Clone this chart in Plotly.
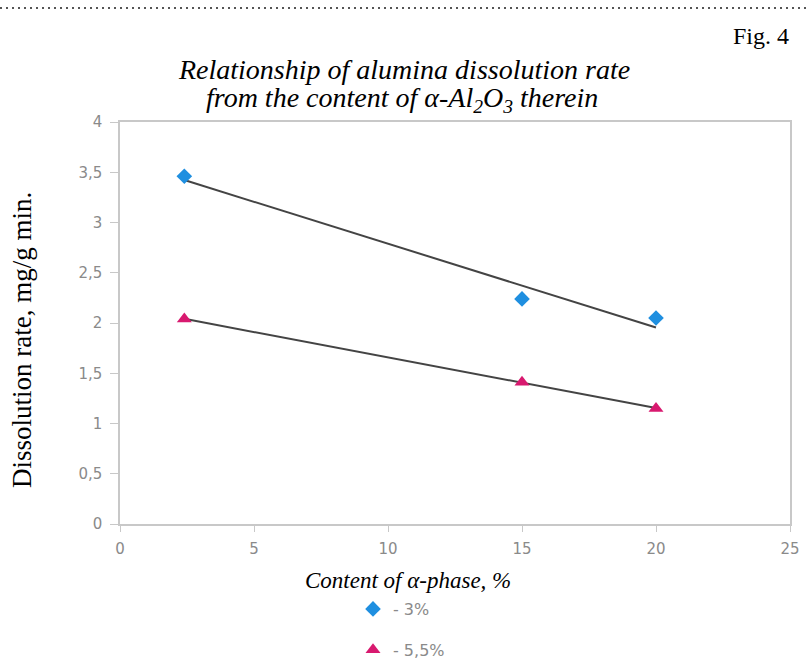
import numpy as np
import plotly.graph_objects as go

# Data
alpha_content = [2.4, 15, 20]
rate_3 = [3.46, 2.24, 2.05]
rate_55 = [2.04, 1.41, 1.15]
series_names = ["- 3%", "- 5,5%"]
x_ticks = [0, 5, 10, 15, 20, 25]
y_ticks = [0, 0.5, 1, 1.5, 2, 2.5, 3, 3.5, 4]

L, R, T, B = 120, 790, 122, 524
W, H = 806, 659
PW, PH = R - L, B - T

def px(x):
    return (x - L) / PW

def py(y):
    return (B - y) / PH

fig = go.Figure()

def trend(xs, ys):
    k, b = np.polyfit(xs, ys, 1)
    xx = np.array([min(xs), max(xs)])
    return xx, k * xx + b

for ys, name, sym, col, size, grp in [
    (rate_3, series_names[0], "diamond", "#1f8fe0", 12, "a"),
    (rate_55, series_names[1], "triangle-up", "#d8196f", 13, "b"),
]:
    tx, ty = trend(alpha_content, ys)
    fig.add_trace(go.Scatter(x=tx, y=ty, mode="lines", line=dict(color="#444444", width=2),
                             showlegend=False, hoverinfo="skip"))
    fig.add_trace(go.Scatter(x=alpha_content, y=ys, mode="markers", name=name, legendgroup=grp,
                             marker=dict(symbol=sym, color=col, size=size, line=dict(width=0))))

serif = "Liberation Serif, Times New Roman, serif"
sans = "DejaVu Sans, Verdana, sans-serif"
tickfont = dict(family=sans, size=15, color="#8a8a8a")

fig.update_layout(
    width=W, height=H,
    margin=dict(l=L, r=W - R, t=T, b=H - B, autoexpand=False),
    paper_bgcolor="white", plot_bgcolor="white",
    separators=",.",
    xaxis=dict(
        range=[0, 25], tickvals=x_ticks, showgrid=False, zeroline=False,
        showline=True, linecolor="#c8c8c8", linewidth=1.5, mirror=True,
        ticks="outside", ticklen=6, tickcolor="#c8c8c8",
        tickfont=tickfont, ticklabelstandoff=4,
    ),
    yaxis=dict(
        range=[0, 4], tickvals=y_ticks, showgrid=False, zeroline=False,
        showline=True, linecolor="#c8c8c8", linewidth=1.5, mirror=True,
        ticks="outside", ticklen=8, tickcolor="#c8c8c8",
        tickfont=tickfont, ticklabelstandoff=5,
    ),
    legend=dict(
        xref="container", yref="container",
        x=353 / W, y=1 - 592 / H, xanchor="left", yanchor="top",
        traceorder="grouped", tracegroupgap=17,
        font=dict(family=sans, size=16, color="#8a8a8a"),
        itemwidth=30, bgcolor="rgba(0,0,0,0)",
    ),
    annotations=[
        dict(text="Fig. 4", xref="paper", yref="paper", x=px(791), y=py(36),
             xanchor="right", yanchor="middle", showarrow=False,
             font=dict(family=serif, size=24, color="black")),
        dict(text="Relationship of alumina dissolution rate", xref="paper", yref="paper",
             x=px(404), y=py(70), xanchor="center", yanchor="middle", showarrow=False,
             font=dict(family=serif, size=28, color="black", style="italic")),
        dict(text="from the content of α-Al<sub>2</sub>O<sub>3</sub> therein", xref="paper", yref="paper",
             x=px(402), y=py(99), xanchor="center", yanchor="middle", showarrow=False,
             font=dict(family=serif, size=28, color="black", style="italic")),
        dict(text="Content of α-phase, %", xref="paper", yref="paper",
             x=px(408), y=py(580), xanchor="center", yanchor="middle", showarrow=False,
             font=dict(family=serif, size=23, color="black", style="italic")),
        dict(text="Dissolution rate, mg/g min.", xref="paper", yref="paper",
             x=px(22), y=py(340), xanchor="center", yanchor="middle", showarrow=False,
             textangle=-90, font=dict(family=serif, size=27, color="black")),
    ],
    shapes=[
        dict(type="line", xref="paper", yref="paper", x0=px(0), x1=px(806),
             y0=py(8), y1=py(8),
             line=dict(color="#555555", width=2, dash="2px,4px")),
    ],
)

fig.write_html("out.html")
